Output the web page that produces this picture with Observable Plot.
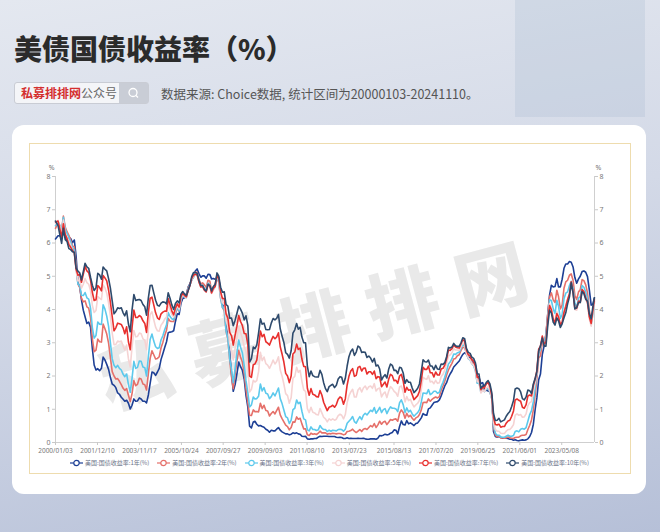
<!DOCTYPE html>
<html><head><meta charset="utf-8">
<script src="https://cdn.jsdelivr.net/npm/d3@7"></script>
<script src="https://cdn.jsdelivr.net/npm/@observablehq/plot@0.6"></script>
<style>
html,body{margin:0;padding:0;}
body{width:660px;height:532px;position:relative;overflow:hidden;font-family:"Noto Sans CJK SC","Noto Sans",sans-serif;
background:linear-gradient(170deg,#e4e8f0 0%,#d3d9e7 45%,#b6c0d8 100%);}
#tr{position:absolute;left:515px;top:0;width:130px;height:117px;background:rgba(170,185,210,0.28);}
#title{position:absolute;left:14px;top:28px;font-size:28px;font-weight:900;color:#2b2b2b;}
#search{position:absolute;left:14px;top:82px;width:135px;height:22px;background:#f4f5f8;border:1px solid #c9ccd4;border-radius:3px;box-sizing:border-box;font-size:12px;line-height:20px;}
#search .t{position:absolute;left:6px;top:0;}
#search .r{color:#d42f2f;font-weight:700;}
#search .g{color:#666;}
#search .m{position:absolute;right:0;top:0;width:29px;height:20px;background:#c9cdd6;}
#src{position:absolute;left:161px;top:84px;font-size:12.5px;color:#555;}
#card{position:absolute;left:12px;top:125px;width:634px;height:369px;background:#fff;border-radius:12px;}
#box{position:absolute;left:29px;top:143px;width:602px;height:331px;border:1.5px solid #eedcae;box-sizing:border-box;}
#chart{position:absolute;left:29px;top:143px;}
#wm{position:absolute;left:100px;top:343px;height:72px;line-height:72px;font-size:72px;font-weight:900;color:#e9e9e9;letter-spacing:20px;transform:rotate(-15deg);transform-origin:0 50%;white-space:nowrap;pointer-events:none;}
#legend{position:absolute;left:29px;top:458px;width:601px;display:flex;justify-content:center;gap:8px;font-size:6px;color:#6b7388;}
#legend .it{display:flex;align-items:center;gap:2px;}
</style></head>
<body>
<div id="tr"></div>
<div id="title">美债国债收益率（%）</div>
<div id="search"><span class="t"><span class="r">私募排排网</span><span class="g">公众号</span></span>
<span class="m"><svg width="29" height="20"><circle cx="14" cy="9.5" r="4" fill="none" stroke="#fff" stroke-width="1.3"/><line x1="17" y1="12.5" x2="19" y2="14.5" stroke="#fff" stroke-width="1.3"/></svg></span></div>
<div id="src">数据来源: Choice数据, 统计区间为20000103-20241110。</div>
<div id="card"></div>
<div id="box"></div>
<div id="wm">私募排排网</div>
<div id="chart"></div>
<div id="legend"></div>
<script>
// monthly yields (%), Jan 2000 .. Nov 2024
const y1 = [
6.12,6.22,6.22,6.15,6.33,6.17,6.08,6.18,6.13,6.01,6.09,5.60,
4.81,4.68,4.30,3.98,3.78,3.58,3.62,3.47,2.82,2.33,2.18,2.22,
2.16,2.23,2.57,2.48,2.35,2.20,1.96,1.76,1.72,1.65,1.49,1.45,
1.36,1.30,1.24,1.27,1.18,1.01,1.12,1.31,1.24,1.25,1.34,1.31,
1.24,1.24,1.19,1.43,1.78,2.12,2.10,2.02,2.12,2.23,2.50,2.67,
2.86,3.03,3.30,3.32,3.33,3.36,3.64,3.87,3.85,4.18,4.33,4.35,
4.45,4.68,4.77,4.90,5.00,5.16,5.22,5.08,4.97,5.01,5.01,4.94,
5.06,5.05,4.92,4.93,4.91,4.96,4.96,4.47,4.14,4.10,3.50,3.26,
2.71,2.05,1.54,1.74,2.06,2.42,2.28,2.18,1.91,1.42,1.07,0.49,
0.44,0.62,0.64,0.55,0.50,0.51,0.48,0.46,0.40,0.37,0.31,0.37,
0.35,0.35,0.40,0.45,0.37,0.32,0.29,0.26,0.26,0.23,0.25,0.29,
0.27,0.29,0.26,0.25,0.19,0.18,0.19,0.11,0.10,0.11,0.11,0.12,
0.12,0.16,0.19,0.18,0.19,0.19,0.19,0.18,0.18,0.18,0.18,0.16,
0.15,0.16,0.15,0.12,0.12,0.14,0.12,0.13,0.12,0.12,0.12,0.13,
0.12,0.12,0.13,0.11,0.10,0.10,0.11,0.11,0.11,0.10,0.13,0.21,
0.20,0.22,0.25,0.23,0.24,0.28,0.30,0.38,0.37,0.26,0.48,0.65,
0.54,0.53,0.66,0.56,0.59,0.55,0.51,0.57,0.59,0.66,0.74,0.87,
0.83,0.82,1.01,1.04,1.12,1.20,1.22,1.23,1.28,1.40,1.56,1.70,
1.80,1.96,2.06,2.15,2.27,2.33,2.39,2.45,2.56,2.65,2.70,2.66,
2.58,2.55,2.49,2.42,2.34,2.00,1.96,1.77,1.80,1.61,1.57,1.55,
1.53,1.41,0.33,0.18,0.16,0.18,0.15,0.13,0.13,0.13,0.12,0.10,
0.10,0.07,0.08,0.06,0.05,0.07,0.08,0.07,0.08,0.11,0.18,0.30,
0.55,1.00,1.34,1.89,2.06,2.65,2.90,3.20,3.86,4.43,4.73,4.68,
4.69,4.93,4.68,4.68,4.91,5.24,5.37,5.37,5.44,5.42,5.28,4.96,
4.79,4.92,5.00,5.14,5.16,5.12,4.99,4.59,4.13,4.17,4.35];
const y2 = [
6.44,6.61,6.53,6.40,6.81,6.48,6.34,6.23,6.08,5.91,5.88,5.35,
4.76,4.66,4.34,4.23,4.26,4.08,4.04,3.76,3.12,2.73,2.78,3.11,
3.03,3.02,3.56,3.42,3.26,2.99,2.56,2.13,2.00,1.91,1.92,1.84,
1.74,1.63,1.57,1.62,1.42,1.23,1.47,1.86,1.71,1.75,1.93,1.91,
1.76,1.74,1.58,2.07,2.53,2.76,2.64,2.51,2.53,2.58,2.85,3.01,
3.22,3.38,3.73,3.65,3.64,3.64,3.87,4.04,3.95,4.27,4.42,4.40,
4.40,4.67,4.73,4.89,4.97,5.12,5.12,4.90,4.77,4.80,4.74,4.67,
4.88,4.85,4.57,4.67,4.77,4.96,4.82,4.34,4.06,3.97,3.34,3.12,
2.48,1.97,1.62,2.05,2.45,2.77,2.57,2.42,2.08,1.61,1.21,0.82,
0.81,0.98,0.93,0.93,0.92,1.18,1.02,1.12,0.96,0.95,0.80,0.87,
0.93,0.86,0.96,1.06,0.83,0.72,0.62,0.52,0.48,0.38,0.45,0.62,
0.61,0.77,0.70,0.73,0.56,0.41,0.41,0.23,0.21,0.28,0.25,0.26,
0.24,0.28,0.34,0.29,0.29,0.29,0.25,0.27,0.26,0.28,0.27,0.26,
0.27,0.27,0.26,0.23,0.25,0.33,0.34,0.36,0.40,0.34,0.30,0.34,
0.39,0.33,0.40,0.42,0.39,0.45,0.51,0.47,0.57,0.45,0.53,0.64,
0.55,0.62,0.64,0.54,0.61,0.69,0.67,0.70,0.71,0.64,0.88,0.98,
0.90,0.73,0.88,0.77,0.82,0.73,0.67,0.74,0.77,0.84,0.98,1.20,
1.21,1.20,1.31,1.24,1.30,1.34,1.37,1.34,1.38,1.57,1.70,1.84,
2.03,2.18,2.28,2.38,2.51,2.53,2.61,2.64,2.77,2.86,2.86,2.68,
2.54,2.50,2.41,2.34,2.21,1.81,1.84,1.57,1.65,1.55,1.61,1.61,
1.52,1.33,0.45,0.23,0.17,0.19,0.14,0.14,0.13,0.14,0.17,0.14,
0.13,0.12,0.15,0.16,0.16,0.20,0.22,0.22,0.24,0.39,0.52,0.68,
0.98,1.44,1.91,2.54,2.61,3.00,3.02,3.25,3.86,4.38,4.50,4.29,
4.21,4.58,4.39,4.02,4.13,4.64,4.83,4.88,5.03,5.07,4.88,4.43,
4.30,4.53,4.59,4.90,4.87,4.74,4.50,3.97,3.62,3.97,4.25];
const y3 = [
6.52,6.65,6.53,6.36,6.77,6.43,6.28,6.17,6.02,5.85,5.79,5.26,
4.77,4.71,4.43,4.42,4.51,4.35,4.31,4.04,3.45,3.14,3.22,3.62,
3.56,3.55,4.14,4.01,3.80,3.49,3.01,2.52,2.32,2.25,2.32,2.23,
2.18,2.05,1.98,2.06,1.75,1.51,1.93,2.44,2.23,2.26,2.45,2.44,
2.27,2.25,2.00,2.57,3.10,3.26,3.05,2.88,2.83,2.85,3.09,3.21,
3.39,3.54,3.91,3.79,3.72,3.69,3.91,4.08,3.96,4.29,4.43,4.39,
4.35,4.64,4.74,4.89,4.97,5.09,5.07,4.85,4.69,4.72,4.64,4.58,
4.79,4.75,4.51,4.60,4.69,5.00,4.82,4.34,4.06,4.01,3.35,3.13,
2.51,2.19,1.80,2.23,2.69,3.08,2.87,2.70,2.32,1.86,1.51,1.07,
1.13,1.37,1.31,1.32,1.39,1.76,1.55,1.65,1.48,1.46,1.32,1.38,
1.49,1.40,1.51,1.64,1.32,1.17,0.98,0.78,0.74,0.57,0.67,0.99,
1.03,1.28,1.17,1.21,0.94,0.71,0.68,0.38,0.35,0.47,0.39,0.39,
0.36,0.38,0.51,0.43,0.39,0.39,0.33,0.37,0.34,0.37,0.36,0.35,
0.39,0.40,0.39,0.34,0.40,0.58,0.64,0.70,0.78,0.63,0.58,0.69,
0.78,0.69,0.82,0.88,0.83,0.90,0.97,0.93,1.05,0.88,0.96,1.06,
0.90,0.99,1.02,0.87,0.98,1.07,1.03,1.03,1.01,0.93,1.20,1.28,
1.14,0.90,1.04,0.92,0.97,0.86,0.79,0.85,0.90,0.99,1.22,1.49,
1.48,1.47,1.59,1.44,1.48,1.54,1.54,1.48,1.51,1.68,1.81,1.96,
2.15,2.36,2.42,2.52,2.66,2.65,2.70,2.71,2.84,2.94,2.91,2.70,
2.52,2.48,2.37,2.31,2.16,1.78,1.80,1.51,1.59,1.53,1.61,1.62,
1.52,1.31,0.53,0.28,0.22,0.22,0.17,0.16,0.16,0.19,0.22,0.19,
0.19,0.21,0.33,0.35,0.32,0.40,0.42,0.40,0.45,0.64,0.84,0.96,
1.23,1.66,2.09,2.69,2.81,3.15,3.05,3.22,3.78,4.29,4.27,4.02,
3.88,4.28,4.10,3.73,3.85,4.32,4.49,4.53,4.72,4.85,4.64,4.20,
4.07,4.34,4.39,4.72,4.67,4.53,4.32,3.87,3.54,3.88,4.20];
const y5 = [
6.58,6.68,6.50,6.26,6.69,6.30,6.18,6.06,5.93,5.78,5.70,5.17,
4.86,4.89,4.64,4.76,4.93,4.81,4.76,4.57,4.12,3.91,3.97,4.39,
4.34,4.30,4.74,4.65,4.49,4.19,3.81,3.29,2.94,2.95,3.05,3.03,
3.05,2.90,2.78,2.93,2.52,2.27,2.87,3.37,3.18,3.19,3.29,3.27,
3.12,3.07,2.79,3.39,3.85,3.93,3.69,3.47,3.36,3.35,3.53,3.60,
3.71,3.77,4.17,4.00,3.85,3.77,3.98,4.12,4.01,4.33,4.45,4.39,
4.35,4.57,4.72,4.90,5.00,5.07,5.04,4.82,4.67,4.69,4.58,4.53,
4.75,4.71,4.48,4.59,4.67,5.03,4.88,4.43,4.20,4.20,3.67,3.49,
2.98,2.78,2.48,2.84,3.15,3.49,3.30,3.14,2.88,2.73,2.29,1.52,
1.60,1.87,1.82,1.86,2.13,2.71,2.46,2.57,2.37,2.33,2.23,2.34,
2.48,2.36,2.43,2.58,2.18,2.00,1.76,1.47,1.41,1.18,1.35,1.93,
1.99,2.26,2.11,2.17,1.84,1.58,1.54,1.02,0.90,1.06,0.91,0.89,
0.84,0.83,1.02,0.89,0.76,0.71,0.62,0.71,0.67,0.71,0.67,0.70,
0.81,0.85,0.82,0.71,0.84,1.20,1.40,1.52,1.60,1.37,1.37,1.58,
1.65,1.52,1.64,1.70,1.59,1.68,1.70,1.63,1.77,1.55,1.62,1.64,
1.37,1.47,1.52,1.35,1.54,1.68,1.63,1.54,1.49,1.39,1.67,1.70,
1.52,1.22,1.38,1.26,1.30,1.17,1.07,1.13,1.18,1.27,1.60,1.96,
1.92,1.90,2.01,1.82,1.84,1.77,1.87,1.78,1.80,1.98,2.05,2.18,
2.38,2.60,2.63,2.70,2.82,2.78,2.78,2.77,2.89,3.00,2.95,2.68,
2.54,2.49,2.37,2.33,2.19,1.83,1.83,1.49,1.57,1.53,1.64,1.68,
1.56,1.32,0.59,0.39,0.34,0.34,0.28,0.27,0.27,0.34,0.39,0.39,
0.45,0.54,0.82,0.86,0.82,0.84,0.76,0.77,0.86,1.11,1.20,1.23,
1.54,1.81,2.11,2.78,2.87,3.19,2.96,3.03,3.70,4.18,4.06,3.76,
3.64,3.94,3.82,3.54,3.59,3.95,4.14,4.31,4.49,4.77,4.49,4.00,
3.98,4.19,4.20,4.56,4.50,4.32,4.16,3.71,3.50,3.91,4.22];
const y7 = [
6.63,6.66,6.43,6.17,6.58,6.26,6.13,5.95,5.87,5.78,5.70,5.21,
5.03,5.05,4.82,5.06,5.30,5.16,5.11,4.88,4.51,4.27,4.29,4.72,
4.66,4.56,5.02,4.95,4.86,4.58,4.22,3.79,3.36,3.45,3.59,3.57,
3.55,3.44,3.27,3.48,3.03,2.79,3.45,3.98,3.76,3.76,3.82,3.78,
3.66,3.58,3.31,3.91,4.34,4.37,4.14,3.90,3.75,3.70,3.87,3.92,
3.95,3.95,4.33,4.15,3.96,3.84,4.04,4.17,4.07,4.38,4.50,4.42,
4.38,4.58,4.72,4.94,5.03,5.06,5.04,4.83,4.68,4.69,4.58,4.53,
4.75,4.71,4.50,4.63,4.69,5.05,4.92,4.53,4.33,4.33,3.87,3.74,
3.31,3.21,2.93,3.23,3.50,3.82,3.64,3.52,3.28,3.27,2.95,2.00,
1.96,2.34,2.36,2.48,2.86,3.35,3.18,3.25,3.03,2.99,2.93,3.07,
3.19,3.12,3.17,3.30,2.88,2.66,2.42,2.08,2.00,1.80,2.00,2.66,
2.72,2.96,2.80,2.84,2.51,2.29,2.28,1.63,1.42,1.62,1.45,1.43,
1.38,1.37,1.56,1.43,1.21,1.08,0.96,1.06,1.08,1.12,1.06,1.14,
1.30,1.37,1.34,1.15,1.31,1.73,1.99,2.15,2.22,1.99,2.02,2.26,
2.29,2.15,2.23,2.24,2.06,2.13,2.13,2.05,2.15,1.92,1.98,1.97,
1.68,1.75,1.82,1.67,1.90,2.05,2.01,1.86,1.87,1.78,2.00,2.05,
1.85,1.51,1.66,1.57,1.59,1.44,1.29,1.35,1.41,1.54,1.87,2.26,
2.20,2.20,2.30,2.10,2.10,1.97,2.12,2.03,2.03,2.21,2.23,2.33,
2.52,2.78,2.77,2.82,2.93,2.87,2.85,2.84,2.97,3.09,3.05,2.78,
2.64,2.61,2.49,2.45,2.31,1.96,1.96,1.59,1.66,1.65,1.76,1.81,
1.68,1.42,0.75,0.54,0.53,0.55,0.46,0.48,0.48,0.58,0.65,0.67,
0.79,0.95,1.28,1.31,1.27,1.24,1.06,1.03,1.14,1.40,1.43,1.40,
1.72,1.91,2.16,2.81,2.90,3.20,2.97,3.01,3.68,4.12,3.99,3.71,
3.59,3.88,3.78,3.54,3.62,3.91,4.09,4.30,4.47,4.83,4.53,4.03,
4.04,4.25,4.23,4.60,4.54,4.35,4.22,3.78,3.58,4.00,4.30];
const y10 = [
6.66,6.52,6.26,5.99,6.44,6.10,6.05,5.83,5.80,5.74,5.72,5.24,
5.16,5.10,4.89,5.14,5.39,5.28,5.24,4.97,4.73,4.57,4.65,5.09,
5.04,4.91,5.28,5.21,5.16,4.93,4.65,4.26,3.87,3.94,4.05,4.03,
4.05,3.90,3.81,3.96,3.57,3.33,3.98,4.45,4.27,4.29,4.30,4.27,
4.15,4.08,3.83,4.35,4.72,4.73,4.50,4.28,4.13,4.10,4.19,4.23,
4.22,4.17,4.50,4.34,4.14,4.00,4.18,4.26,4.20,4.46,4.54,4.47,
4.42,4.57,4.72,4.99,5.11,5.11,5.09,4.88,4.72,4.73,4.60,4.56,
4.76,4.72,4.56,4.69,4.75,5.10,5.00,4.67,4.52,4.53,4.15,4.10,
3.74,3.74,3.51,3.68,3.88,4.10,4.01,3.89,3.69,3.81,3.53,2.42,
2.52,2.87,2.82,2.93,3.29,3.72,3.56,3.59,3.40,3.39,3.40,3.59,
3.73,3.69,3.73,3.85,3.42,3.20,3.01,2.70,2.65,2.54,2.76,3.29,
3.39,3.58,3.41,3.46,3.17,3.00,3.00,2.30,1.98,2.15,2.01,1.98,
1.97,1.97,2.17,2.05,1.80,1.62,1.53,1.68,1.72,1.75,1.65,1.72,
1.91,1.98,1.96,1.76,1.93,2.30,2.58,2.74,2.81,2.62,2.72,2.90,
2.86,2.71,2.72,2.71,2.56,2.60,2.54,2.42,2.53,2.30,2.33,2.21,
1.88,1.98,2.04,1.94,2.20,2.36,2.32,2.17,2.17,2.07,2.26,2.24,
2.09,1.78,1.89,1.81,1.81,1.64,1.50,1.56,1.63,1.76,2.14,2.49,
2.43,2.42,2.48,2.30,2.30,2.19,2.32,2.21,2.20,2.36,2.35,2.40,
2.58,2.86,2.84,2.87,2.98,2.91,2.89,2.89,3.00,3.15,3.12,2.83,
2.71,2.68,2.57,2.53,2.40,2.07,2.06,1.63,1.70,1.71,1.81,1.86,
1.76,1.50,0.87,0.66,0.67,0.73,0.62,0.65,0.68,0.79,0.87,0.93,
1.08,1.26,1.61,1.64,1.62,1.52,1.32,1.28,1.37,1.58,1.56,1.47,
1.76,1.93,2.13,2.75,2.90,3.14,2.90,2.90,3.52,3.98,3.89,3.62,
3.53,3.75,3.66,3.46,3.57,3.75,3.90,4.17,4.38,4.80,4.50,4.02,
4.06,4.21,4.21,4.54,4.48,4.31,4.25,3.87,3.72,4.10,4.35];

const seriesNames = ["美国:国债收益率:1年(%)","美国:国债收益率:2年(%)","美国:国债收益率:3年(%)","美国:国债收益率:5年(%)","美国:国债收益率:7年(%)","美国:国债收益率:10年(%)"];
const seriesColors = ["#1d3f95","#e5706a","#5cc9ec","#f5d3d3","#e8302e","#2e4a6c"];
const seriesValues = [y1,y2,y3,y5,y7,y10];
const xTickLabels = ["2000/01/03","2001/12/10","2003/11/17","2005/10/24","2007/09/27","2009/09/03","2011/08/10","2013/07/23","2015/08/13","2017/07/20","2019/06/25","2021/06/01","2023/05/08"];
const yTicks = [0,1,2,3,4,5,6,7,8];
const yUnit = "%";
const startLabel = "2000/01/03", endLabel = "2024/11/10";

const parse = d3.utcParse("%Y/%m/%d");
const fmt = d3.utcFormat("%Y/%m/%d");
const xStart = parse(startLabel), xEnd = parse(endLabel);
const n = y1.length;
const dateAt = i => i === 0 ? xStart : (i === n - 1 ? parse("2024/11/08") : new Date(Date.UTC(2000, i, 15)));

const rows = [];
seriesValues.forEach((vals, s) => vals.forEach((v, i) => rows.push({date: dateAt(i), value: v, s})));

const axisStyle = {tickSize: 3, tickPadding: 2, stroke: "#c8c8c8", fill: "#777", label: null};
const chart = Plot.plot({
  width: 601, height: 320,
  marginLeft: 26, marginRight: 36, marginTop: 33, marginBottom: 21,
  x: {type: "utc", domain: [xStart, xEnd]},
  y: {domain: [0, 8]},
  style: {fontFamily: "'Noto Sans', 'Noto Sans CJK SC', sans-serif", fontSize: "7px", color: "#777", background: "transparent", overflow: "visible"},
  marks: [
    Plot.ruleY([0], {stroke: "#cfcfcf"}),
    Plot.ruleX([xStart, xEnd], {stroke: "#cfcfcf"}),
    Plot.axisY(yTicks, {anchor: "left", ...axisStyle}),
    Plot.axisY(yTicks, {anchor: "right", ...axisStyle}),
    Plot.text([yUnit], {frameAnchor: "top-left", dx: -1, dy: -11, textAnchor: "end", fill: "#777", fontSize: 7}),
    Plot.text([yUnit], {frameAnchor: "top-right", dx: 1, dy: -11, textAnchor: "start", fill: "#777", fontSize: 7}),
    Plot.axisX(xTickLabels.map(parse), {anchor: "bottom", ...axisStyle, tickPadding: 3, tickFormat: fmt, fontSize: 6.5}),
    ...seriesValues.map((_, s) => Plot.lineY(rows.filter(r => r.s === s), {x: "date", y: "value", stroke: seriesColors[s], strokeWidth: 1.6, curve: "linear"}))
  ]
});
document.getElementById("chart").appendChild(chart);

const lg = document.getElementById("legend");
seriesNames.forEach((name, s) => {
  const it = document.createElement("div");
  it.className = "it";
  it.innerHTML = `<svg width="13" height="8"><line x1="0" y1="4" x2="13" y2="4" stroke="${seriesColors[s]}" stroke-width="1.2"/><circle cx="6.5" cy="4" r="2.7" fill="#fff" stroke="${seriesColors[s]}" stroke-width="1.2"/></svg><span>${name}</span>`;
  lg.appendChild(it);
});
</script>
</body></html>
